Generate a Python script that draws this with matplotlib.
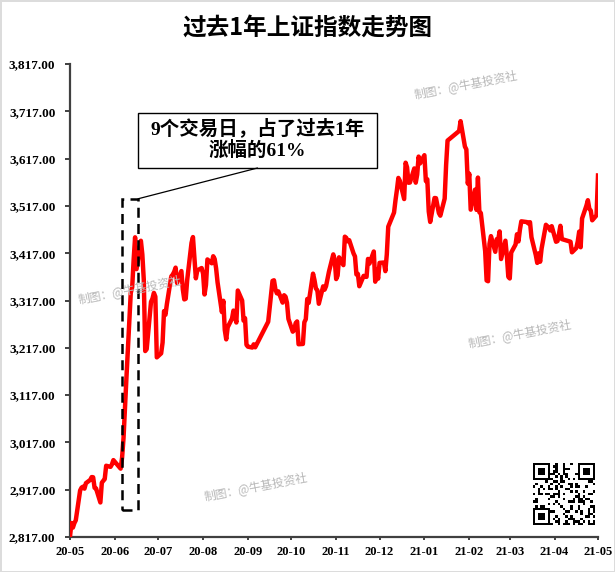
import matplotlib
matplotlib.use('Agg')
import matplotlib.pyplot as plt
import matplotlib.dates as mdates
from matplotlib.patches import Rectangle
import numpy as np
import pandas as pd

# 上证指数 daily close, 2020-05-25 .. 2021-05-25
dates = [
    '2020-05-25', '2020-05-26', '2020-05-27', '2020-05-28', '2020-05-29',
    '2020-06-01', '2020-06-02', '2020-06-03', '2020-06-04', '2020-06-05',
    '2020-06-08', '2020-06-09', '2020-06-10', '2020-06-11', '2020-06-12',
    '2020-06-15', '2020-06-16', '2020-06-17', '2020-06-18', '2020-06-19',
    '2020-06-22', '2020-06-23', '2020-06-24', '2020-06-29', '2020-06-30',
    '2020-07-01', '2020-07-02', '2020-07-03', '2020-07-06', '2020-07-07',
    '2020-07-08', '2020-07-09', '2020-07-10', '2020-07-13', '2020-07-14',
    '2020-07-15', '2020-07-16', '2020-07-17', '2020-07-20', '2020-07-21',
    '2020-07-22', '2020-07-23', '2020-07-24', '2020-07-27', '2020-07-28',
    '2020-07-29', '2020-07-30', '2020-07-31', '2020-08-03', '2020-08-04',
    '2020-08-05', '2020-08-06', '2020-08-07', '2020-08-10', '2020-08-11',
    '2020-08-12', '2020-08-13', '2020-08-14', '2020-08-17', '2020-08-18',
    '2020-08-19', '2020-08-20', '2020-08-21', '2020-08-24', '2020-08-25',
    '2020-08-26', '2020-08-27', '2020-08-28', '2020-08-31', '2020-09-01',
    '2020-09-02', '2020-09-03', '2020-09-04', '2020-09-07', '2020-09-08',
    '2020-09-09', '2020-09-10', '2020-09-11', '2020-09-14', '2020-09-15',
    '2020-09-16', '2020-09-17', '2020-09-18', '2020-09-21', '2020-09-22',
    '2020-09-23', '2020-09-24', '2020-09-25', '2020-09-28', '2020-09-29',
    '2020-09-30', '2020-10-09', '2020-10-12', '2020-10-13', '2020-10-14',
    '2020-10-15', '2020-10-16', '2020-10-19', '2020-10-20', '2020-10-21',
    '2020-10-22', '2020-10-23', '2020-10-26', '2020-10-27', '2020-10-28',
    '2020-10-29', '2020-10-30', '2020-11-02', '2020-11-03', '2020-11-04',
    '2020-11-05', '2020-11-06', '2020-11-09', '2020-11-10', '2020-11-11',
    '2020-11-12', '2020-11-13', '2020-11-16', '2020-11-17', '2020-11-18',
    '2020-11-19', '2020-11-20', '2020-11-23', '2020-11-24', '2020-11-25',
    '2020-11-26', '2020-11-27', '2020-11-30', '2020-12-01', '2020-12-02',
    '2020-12-03', '2020-12-04', '2020-12-07', '2020-12-08', '2020-12-09',
    '2020-12-10', '2020-12-11', '2020-12-14', '2020-12-15', '2020-12-16',
    '2020-12-17', '2020-12-18', '2020-12-21', '2020-12-22', '2020-12-23',
    '2020-12-24', '2020-12-25', '2020-12-28', '2020-12-29', '2020-12-30',
    '2020-12-31', '2021-01-04', '2021-01-05', '2021-01-06', '2021-01-07',
    '2021-01-08', '2021-01-11', '2021-01-12', '2021-01-13', '2021-01-14',
    '2021-01-15', '2021-01-18', '2021-01-19', '2021-01-20', '2021-01-21',
    '2021-01-22', '2021-01-25', '2021-01-26', '2021-01-27', '2021-01-28',
    '2021-01-29', '2021-02-01', '2021-02-02', '2021-02-03', '2021-02-04',
    '2021-02-05', '2021-02-08', '2021-02-09', '2021-02-10', '2021-02-18',
    '2021-02-19', '2021-02-22', '2021-02-23', '2021-02-24', '2021-02-25',
    '2021-02-26', '2021-03-01', '2021-03-02', '2021-03-03', '2021-03-04',
    '2021-03-05', '2021-03-08', '2021-03-09', '2021-03-10', '2021-03-11',
    '2021-03-12', '2021-03-15', '2021-03-16', '2021-03-17', '2021-03-18',
    '2021-03-19', '2021-03-22', '2021-03-23', '2021-03-24', '2021-03-25',
    '2021-03-26', '2021-03-29', '2021-03-30', '2021-03-31', '2021-04-01',
    '2021-04-02', '2021-04-06', '2021-04-07', '2021-04-08', '2021-04-09',
    '2021-04-12', '2021-04-13', '2021-04-14', '2021-04-15', '2021-04-16',
    '2021-04-19', '2021-04-20', '2021-04-21', '2021-04-22', '2021-04-23',
    '2021-04-26', '2021-04-27', '2021-04-28', '2021-04-29', '2021-04-30',
    '2021-05-06', '2021-05-07', '2021-05-10', '2021-05-11', '2021-05-12',
    '2021-05-13', '2021-05-14', '2021-05-17', '2021-05-18', '2021-05-19',
    '2021-05-20', '2021-05-21', '2021-05-24', '2021-05-25',
]
closes = [
    2817.97, 2846.55, 2836.80, 2846.22, 2852.35,
    2915.43, 2921.40, 2923.37, 2919.25, 2930.80,
    2937.77, 2943.75, 2943.32, 2920.90, 2919.74,
    2890.03, 2931.75, 2935.87, 2939.32, 2967.63,
    2965.27, 2970.62, 2979.55, 2961.52, 2984.67,
    3025.98, 3090.57, 3152.81, 3332.88, 3345.34,
    3403.44, 3450.59, 3383.32, 3443.29, 3414.62,
    3361.30, 3210.10, 3214.13, 3314.15, 3320.90,
    3333.16, 3325.11, 3196.77, 3205.23, 3227.96,
    3294.55, 3286.82, 3310.01, 3367.97, 3371.69,
    3377.56, 3386.46, 3354.04, 3379.25, 3340.29,
    3319.27, 3320.73, 3360.10, 3438.80, 3451.09,
    3408.13, 3363.90, 3380.68, 3385.64, 3373.58,
    3329.74, 3350.11, 3403.81, 3395.68, 3410.61,
    3404.80, 3384.98, 3355.37, 3292.59, 3316.42,
    3254.63, 3234.82, 3260.35, 3278.81, 3295.68,
    3283.92, 3270.44, 3338.09, 3316.94, 3274.30,
    3279.71, 3223.18, 3219.42, 3217.53, 3224.36,
    3218.05, 3272.08, 3358.47, 3359.75, 3340.53,
    3332.18, 3336.36, 3312.50, 3328.10, 3325.03,
    3312.16, 3278.00, 3251.12, 3254.32, 3269.24,
    3272.74, 3224.53, 3225.12, 3271.07, 3277.44,
    3320.13, 3312.16, 3373.73, 3360.15, 3342.20,
    3338.68, 3310.10, 3346.97, 3339.90, 3347.30,
    3363.09, 3377.73, 3414.49, 3402.82, 3362.33,
    3369.73, 3408.31, 3391.76, 3451.94, 3449.38,
    3442.14, 3444.58, 3416.60, 3410.18, 3371.96,
    3373.28, 3347.19, 3369.12, 3367.23, 3366.98,
    3404.87, 3394.90, 3420.57, 3356.78, 3382.32,
    3363.11, 3396.56, 3397.29, 3379.04, 3414.45,
    3473.07, 3502.96, 3528.68, 3550.88, 3576.20,
    3570.11, 3531.50, 3608.34, 3598.65, 3565.90,
    3566.38, 3596.22, 3566.12, 3583.09, 3621.26,
    3606.75, 3624.24, 3569.43, 3573.34, 3505.18,
    3483.07, 3533.68, 3533.39, 3517.31, 3501.86,
    3496.33, 3532.44, 3603.49, 3655.09, 3675.36,
    3696.17, 3642.44, 3636.36, 3564.08, 3585.05,
    3509.08, 3551.40, 3508.59, 3576.90, 3503.49,
    3501.99, 3421.41, 3359.29, 3357.74, 3436.83,
    3453.08, 3419.95, 3446.73, 3445.55, 3463.07,
    3404.66, 3443.44, 3411.51, 3367.06, 3363.59,
    3418.33, 3435.30, 3457.07, 3441.91, 3466.33,
    3484.39, 3482.71, 3479.63, 3482.55, 3450.68,
    3412.95, 3396.47, 3416.75, 3398.99, 3426.62,
    3477.07, 3472.94, 3472.39, 3465.11, 3474.17,
    3441.17, 3442.61, 3457.07, 3474.90, 3446.86,
    3441.28, 3418.87, 3427.99, 3441.85, 3462.75,
    3429.54, 3490.38, 3517.62, 3529.01, 3510.96,
    3506.94, 3486.56, 3497.28, 3581.34,
]

y_ticks = np.arange(2817, 3818, 100)
x_start, x_end = '2020-05-25', '2021-05-25'

# 9-day rally window (dashed box)
box_x = ['2020-06-30', '2020-07-11']
box_y = [2874, 3532]

title = '过去1年上证指数走势图'
note = '9个交易日，占了过去1年\n涨幅的61%'
watermark = '制图：@牛基投资社'

cjk = ['Noto Sans CJK SC', 'DejaVu Sans']
serif_cjk = ['Liberation Serif', 'Noto Sans CJK SC']

d = pd.to_datetime(dates)

fig = plt.figure(figsize=(6.15, 5.72), dpi=100)
fig.patch.set_edgecolor('#dcdcdc')
fig.patch.set_linewidth(2)
ax = fig.add_axes([70/615, 1 - 537/572, 528/615, 473/572])

ax.plot(d, closes, color='#ff0000', lw=3.2, solid_joinstyle='round', zorder=3)

ax.set_xlim(pd.Timestamp(x_start), pd.Timestamp(x_end))
ax.set_ylim(y_ticks[0], y_ticks[-1])
ax.set_yticks(y_ticks)
ax.set_yticklabels([format(v, ',.2f') for v in y_ticks])

xt = pd.date_range(x_start, x_end, freq=pd.DateOffset(months=1))
ax.set_xticks(xt)
ax.set_xticklabels([t.strftime('%y-%m') for t in xt])

for s in ['top', 'right']:
    ax.spines[s].set_visible(False)
for s in ['left', 'bottom']:
    ax.spines[s].set_color('#404040')
    ax.spines[s].set_linewidth(1.6)
ax.tick_params(axis='y', length=3.5, width=1.4, color='#404040', pad=7)
ax.tick_params(axis='x', length=2.5, width=1.4, color='#404040', pad=4)
for lab in ax.get_yticklabels() + ax.get_xticklabels():
    lab.set_fontfamily('Liberation Serif')
    lab.set_fontweight('bold')
    lab.set_fontsize(9.5)
for lab in ax.get_xticklabels():
    lab.set_fontsize(9)

# dashed box round the rally
bx0, bx1 = mdates.date2num(pd.to_datetime(box_x))
ax.add_patch(Rectangle((bx0, box_y[0]), bx1 - bx0, box_y[1] - box_y[0],
                       fill=False, ec='black', lw=1.8, ls=(0, (4, 2.5)), zorder=4))

# callout box
bl, bb = (138 - 70) / 528, (537 - 168) / 473
bw, bh = (377 - 138) / 528, (168 - 113) / 473
ax.add_patch(Rectangle((bl, bb), bw, bh, transform=ax.transAxes, fill=True,
                       fc='white', ec='black', lw=1.0, zorder=5, clip_on=False))
ax.text(bl + bw / 2, bb + bh / 2 + 0.003, note, transform=ax.transAxes, ha='center',
        va='center', multialignment='center', fontsize=14, fontweight='bold',
        family=serif_cjk, linespacing=1.15, zorder=6)
ax.annotate('', xy=(bx1, box_y[1]), xycoords='data',
            xytext=(bl + bw / 2, bb), textcoords='axes fraction',
            arrowprops=dict(arrowstyle='-', lw=0.9, color='black',
                            shrinkA=0, shrinkB=0), zorder=5)

fig.text(0.5, 1 - 28/572, title, ha='center', va='center', fontsize=17,
         fontweight='bold', family=cjk)

# watermarks
for px, py in [(466, 86), (130, 291), (520, 335), (256, 488)]:
    fig.text(px / 615, 1 - py / 572, watermark, ha='center', va='center',
             fontsize=8.5, color='#b8b8b8', rotation=11, family=cjk, zorder=10)

# QR code placeholder
n = 25
qr = np.zeros((n, n))
for i in range(n):
    for j in range(n):
        qr[i, j] = 1 if ((i * 7 + j * 11) ^ (i * j)) % 3 == 0 else 0
for (r, c) in [(0, 0), (0, n - 7), (n - 7, 0)]:
    qr[r:r + 7, c:c + 7] = 1
    qr[r + 1:r + 6, c + 1:c + 6] = 0
    qr[r + 2:r + 5, c + 2:c + 5] = 1
qax = fig.add_axes([533/615, 1 - 525/572, 62/615, 62/572])
qax.imshow(1 - qr, cmap='gray', interpolation='nearest', vmin=0, vmax=1)
qax.axis('off')

fig.savefig('out.png', dpi=100, facecolor='white', edgecolor=fig.get_edgecolor())
